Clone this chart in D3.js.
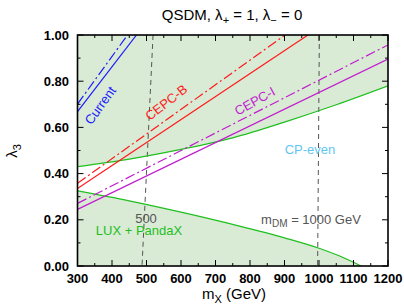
<!DOCTYPE html>
<html lang="en">
<head>
    <meta charset="UTF-8">
    <title>QSDM lambda3 vs mX</title>
    <script src="https://d3js.org/d3.v7.min.js"></script>
    <style>
        body { margin: 0; background: #fff; }
        svg { display: block; font-family: "Liberation Sans", Arial, sans-serif; }
    </style>
</head>
<body>
    <div id="chart"></div>
    <script>
        // Data: [mX (GeV), lambda3]
        const currentSolid = [[300, 0.668], [471, 1.0]];
        const currentDash = [[300, 0.701], [445, 1.0]];
        const cepcBSolid = [[300, 0.336], [968, 1.0]];
        const cepcBDash = [[300, 0.358], [902, 1.0]];
        const cepcISolid = [[300, 0.245], [1200, 0.896]];
        const cepcIDash = [[300, 0.271], [1200, 0.957]];
        const cpEvenUpper = [[300, 0.43], [450, 0.463], [600, 0.505], [750, 0.555], [900, 0.623], [1050, 0.698], [1200, 0.78]];
        const luxLower = [[300, 0.325], [450, 0.282], [600, 0.233], [750, 0.18], [900, 0.122], [1000, 0.077], [1060, 0.043], [1122, 0.0]];
        const mdm500 = [[519, 1.0], [487, 0.0]];
        const mdm1000 = [[1001, 1.0], [996, 0.0]];

        const xTicks = [300, 400, 500, 600, 700, 800, 900, 1000, 1100, 1200];
        const yTicks = [0, 0.2, 0.4, 0.6, 0.8, 1.0];

        const width = 404, height = 307;
        const pL = 77.5, pR = 388, pT = 35, pB = 266;

        const x = d3.scaleLinear().domain([300, 1200]).range([pL, pR]);
        const y = d3.scaleLinear().domain([0, 1]).range([pB, pT]);

        const svg = d3.select('#chart').append('svg')
            .attr('width', width)
            .attr('height', height);

        svg.append('clipPath').attr('id', 'plot')
            .append('rect')
            .attr('x', pL).attr('y', pT)
            .attr('width', pR - pL).attr('height', pB - pT);

        const g = svg.append('g').attr('clip-path', 'url(#plot)');

        // shaded background, white band between the two green curves
        g.append('rect')
            .attr('x', pL).attr('y', pT)
            .attr('width', pR - pL).attr('height', pB - pT)
            .attr('fill', '#d9ead5');

        const line = d3.line().curve(d3.curveMonotoneX).x(d => x(d[0])).y(d => y(d[1]));

        // white region: under the upper green curve, above the lower one
        const lastLux = luxLower[luxLower.length - 1];
        g.append('path')
            .attr('fill', '#fff')
            .attr('d', line(cpEvenUpper) + 'L' + x(1200) + ',' + y(0) + 'L' + x(lastLux[0]) + ',' + y(0)
                + line(luxLower.slice().reverse()).replace(/^M/, 'L') + 'Z');

        const dashDot = '10,3,2,3';

        const series = [
            { data: mdm500, color: '#555', dash: '5,4', w: 1 },
            { data: mdm1000, color: '#555', dash: '5,4', w: 1 },
            { data: cpEvenUpper, color: '#1fbf1f', dash: null, w: 1.2 },
            { data: luxLower, color: '#1fbf1f', dash: null, w: 1.2 },
            { data: currentSolid, color: '#1a1aff', dash: null, w: 1.2 },
            { data: currentDash, color: '#1a1aff', dash: dashDot, w: 1.2 },
            { data: cepcBSolid, color: '#ff1a1a', dash: null, w: 1.2 },
            { data: cepcBDash, color: '#ff1a1a', dash: dashDot, w: 1.2 },
            { data: cepcISolid, color: '#c21ccf', dash: null, w: 1.2 },
            { data: cepcIDash, color: '#c21ccf', dash: dashDot, w: 1.2 }
        ];

        g.selectAll('path.series')
            .data(series)
            .enter().append('path')
            .attr('class', 'series')
            .attr('fill', 'none')
            .attr('stroke', d => d.color)
            .attr('stroke-width', d => d.w)
            .attr('stroke-dasharray', d => d.dash)
            .attr('d', d => line(d.data));

        // axes with inward ticks on all four sides
        const xMinor = d3.range(350, 1200, 100);
        const yMinor = d3.range(0.1, 1.0, 0.2);
        const axes = svg.append('g').attr('stroke', '#000').attr('stroke-width', 1);
        const tickLine = (x1, y1, x2, y2) => axes.append('line')
            .attr('x1', x1).attr('y1', y1).attr('x2', x2).attr('y2', y2);
        xTicks.forEach(v => { tickLine(x(v), pB, x(v), pB - 6); tickLine(x(v), pT, x(v), pT + 6); });
        xMinor.forEach(v => { tickLine(x(v), pB, x(v), pB - 3); tickLine(x(v), pT, x(v), pT + 3); });
        yTicks.forEach(v => { tickLine(pL, y(v), pL + 6, y(v)); tickLine(pR, y(v), pR - 6, y(v)); });
        yMinor.forEach(v => { tickLine(pL, y(v), pL + 3, y(v)); tickLine(pR, y(v), pR - 3, y(v)); });

        svg.append('rect')
            .attr('x', pL).attr('y', pT)
            .attr('width', pR - pL).attr('height', pB - pT)
            .attr('fill', 'none').attr('stroke', '#000').attr('stroke-width', 1.6);

        svg.selectAll('text.xt')
            .data(xTicks)
            .enter().append('text')
            .attr('x', d => x(d)).attr('y', 283)
            .attr('text-anchor', 'middle')
            .attr('font-size', 13).attr('font-weight', 'bold')
            .text(d => d);

        svg.selectAll('text.yt')
            .data(yTicks)
            .enter().append('text')
            .attr('x', 69).attr('y', d => y(d) + 4.5)
            .attr('text-anchor', 'end')
            .attr('font-size', 13).attr('font-weight', 'bold')
            .text(d => d.toFixed(2));

        // title
        const title = svg.append('text')
            .attr('x', 232).attr('y', 20)
            .attr('text-anchor', 'middle')
            .attr('font-size', 15);
        title.append('tspan').text('QSDM,  λ');
        title.append('tspan').attr('font-size', 11).attr('dy', 4).text('+');
        title.append('tspan').attr('dy', -4).text(' = 1, λ');
        title.append('tspan').attr('font-size', 11).attr('dy', 4).text('−');
        title.append('tspan').attr('dy', -4).text(' = 0');

        // axis labels
        const xl = svg.append('text')
            .attr('x', 234).attr('y', 299)
            .attr('text-anchor', 'middle')
            .attr('font-size', 15);
        xl.append('tspan').text('m');
        xl.append('tspan').attr('font-size', 11).attr('dy', 4).text('X');
        xl.append('tspan').attr('dy', -4).text('  (GeV)');

        const yl = svg.append('text')
            .attr('transform', 'translate(17,151) rotate(-90)')
            .attr('text-anchor', 'middle')
            .attr('font-size', 15);
        yl.append('tspan').text('λ');
        yl.append('tspan').attr('font-size', 11).attr('dy', 4).text('3');

        // in-plot labels
        const label = (txt, px, py, angle, color) => svg.append('text')
            .attr('transform', `translate(${px},${py}) rotate(${angle})`)
            .attr('text-anchor', 'middle')
            .attr('font-size', 13)
            .attr('fill', color)
            .text(txt);
        label('Current', 104, 108, -54, '#1a1aff');
        label('CEPC-B', 169, 106, -38, '#ff1a1a');
        label('CEPC-I', 257, 105, -29, '#c21ccf');
        label('CP-even', 310, 154, 0, '#5fc6f5');
        label('500', 146, 223, 0, '#555');
        label('LUX + PandaX', 139, 235, 0, '#1fbf1f');

        const md = svg.append('text')
            .attr('x', 311).attr('y', 224)
            .attr('text-anchor', 'middle')
            .attr('font-size', 13)
            .attr('fill', '#555');
        md.append('tspan').text('m');
        md.append('tspan').attr('font-size', 10).attr('dy', 3).text('DM');
        md.append('tspan').attr('dy', -3).text(' = 1000 GeV');
    </script>
</body>
</html>
